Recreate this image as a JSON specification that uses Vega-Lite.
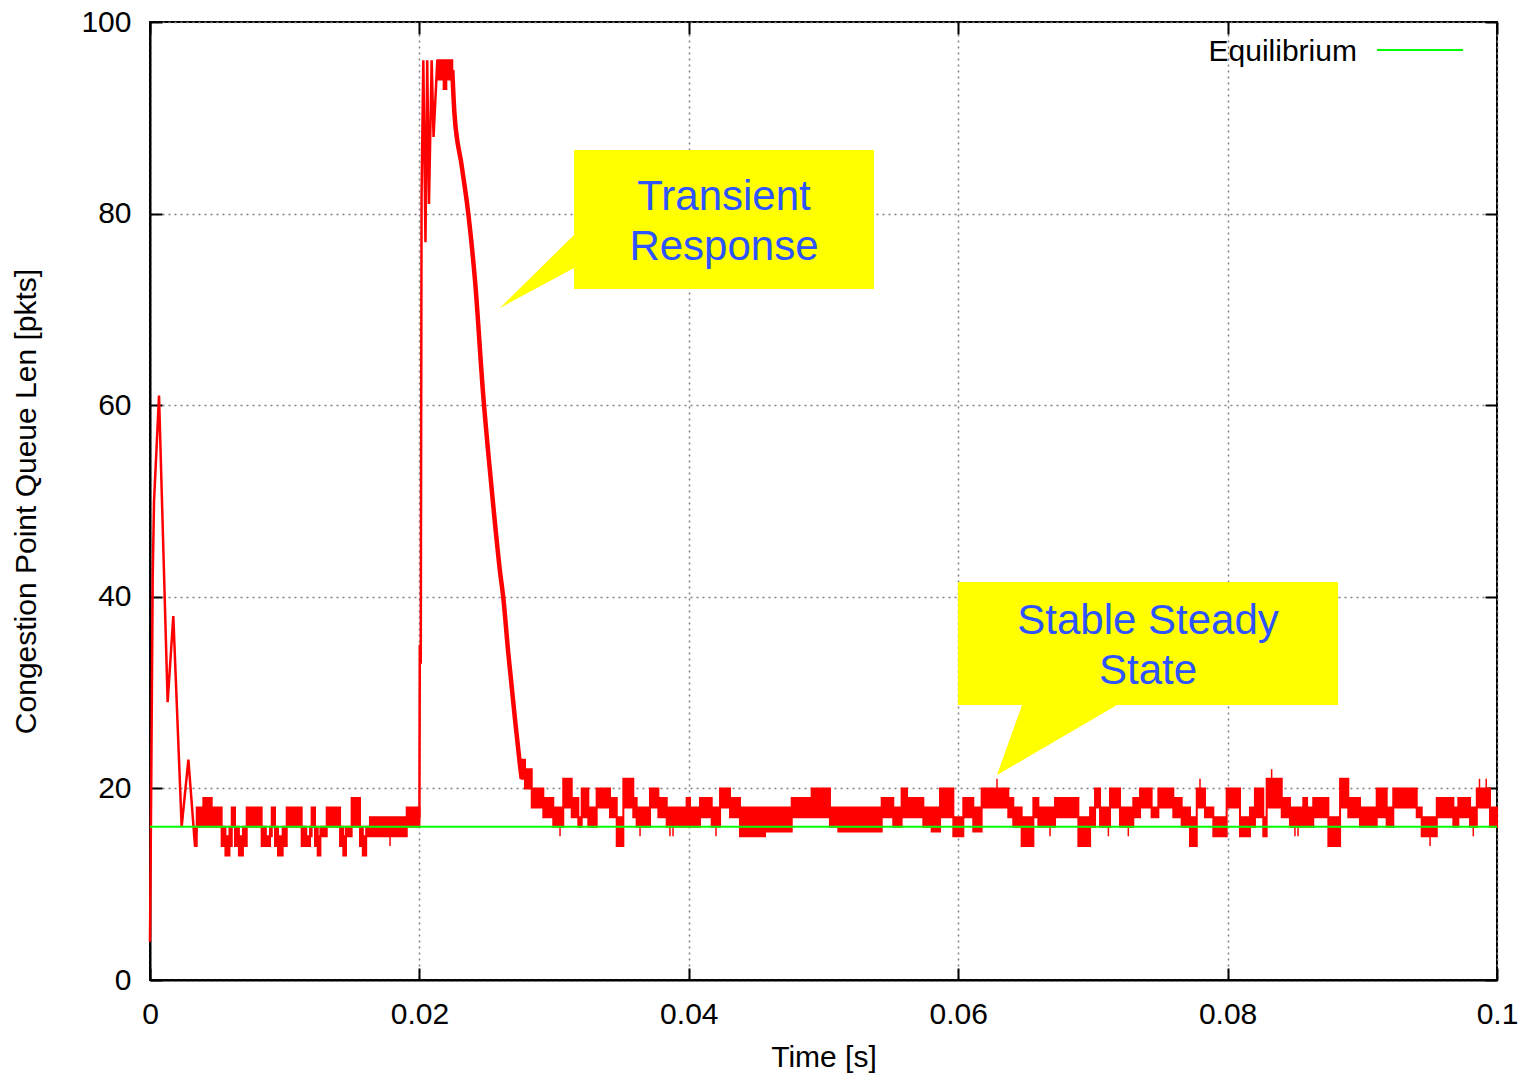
{
  "$schema": "https://vega.github.io/schema/vega-lite/v6.json",
  "width": 1347,
  "height": 958,
  "autosize": {"type": "none"},
  "padding": {"left": 150, "top": 22, "right": 25, "bottom": 94},
  "background": "white",
  "config": {
    "view": {"stroke": "black", "strokeWidth": 2},
    "font": "Liberation Sans"
  },
  "datasets": {
    "band": [
      {"seg":"A","t":0.00334,"lo":14,"hi":16},{"seg":"A","t":0.00347,"lo":16,"hi":18},{"seg":"A","t":0.00396,"lo":16,"hi":19},{"seg":"A","t":0.00458,"lo":16,"hi":18},{"seg":"A","t":0.00532,"lo":14,"hi":16},{"seg":"A","t":0.0056,"lo":13,"hi":15},{"seg":"A","t":0.0059,"lo":14,"hi":16},{"seg":"A","t":0.00607,"lo":16,"hi":18},{"seg":"A","t":0.00631,"lo":14,"hi":16},{"seg":"A","t":0.0066,"lo":13,"hi":15},{"seg":"A","t":0.0069,"lo":14,"hi":16},{"seg":"A","t":0.00718,"lo":16,"hi":18},{"seg":"A","t":0.00829,"lo":14,"hi":16},{"seg":"A","t":0.0086,"lo":14,"hi":15},{"seg":"A","t":0.00891,"lo":15,"hi":16},{"seg":"A","t":0.00904,"lo":16,"hi":18},{"seg":"A","t":0.00928,"lo":14,"hi":16},{"seg":"A","t":0.0095,"lo":13,"hi":15},{"seg":"A","t":0.00985,"lo":14,"hi":16},{"seg":"A","t":0.01015,"lo":16,"hi":18},{"seg":"A","t":0.01126,"lo":14,"hi":16},{"seg":"A","t":0.0116,"lo":14,"hi":15},{"seg":"A","t":0.01188,"lo":15,"hi":16},{"seg":"A","t":0.012,"lo":16,"hi":18},{"seg":"A","t":0.01225,"lo":14,"hi":16},{"seg":"A","t":0.01245,"lo":13,"hi":15},{"seg":"A","t":0.01265,"lo":15,"hi":16},{"seg":"A","t":0.01312,"lo":16,"hi":18},{"seg":"A","t":0.01411,"lo":14,"hi":16},{"seg":"A","t":0.01435,"lo":13,"hi":15},{"seg":"A","t":0.01455,"lo":15,"hi":16},{"seg":"A","t":0.01497,"lo":16,"hi":19},{"seg":"A","t":0.01559,"lo":14,"hi":16},{"seg":"A","t":0.0158,"lo":13,"hi":15},{"seg":"A","t":0.01605,"lo":15,"hi":16},{"seg":"A","t":0.01633,"lo":15,"hi":17},{"seg":"A","t":0.01906,"lo":16,"hi":18},{"seg":"A","t":0.02,"lo":16,"hi":18},
      {"seg":"B","t":0.02133,"lo":94,"hi":96},{"seg":"B","t":0.0218,"lo":93,"hi":96},{"seg":"B","t":0.022,"lo":94,"hi":96},{"seg":"B","t":0.02244,"lo":94,"hi":96},
      {"seg":"C","t":0.02759,"lo":21,"hi":23},{"seg":"C","t":0.02784,"lo":20,"hi":22},{"seg":"C","t":0.02834,"lo":18,"hi":20},{"seg":"C","t":0.0292,"lo":17,"hi":19},{"seg":"C","t":0.02994,"lo":16,"hi":18},{"seg":"C","t":0.03068,"lo":18,"hi":21},{"seg":"C","t":0.03131,"lo":17,"hi":19},{"seg":"C","t":0.0318,"lo":16,"hi":17},{"seg":"C","t":0.03205,"lo":17,"hi":20},{"seg":"C","t":0.03254,"lo":16,"hi":18},{"seg":"C","t":0.03316,"lo":18,"hi":20},{"seg":"C","t":0.03415,"lo":17,"hi":19},{"seg":"C","t":0.03465,"lo":14,"hi":17},{"seg":"C","t":0.03514,"lo":18,"hi":21},{"seg":"C","t":0.03588,"lo":17,"hi":19},{"seg":"C","t":0.03613,"lo":16,"hi":18},{"seg":"C","t":0.03712,"lo":18,"hi":20},{"seg":"C","t":0.03774,"lo":17,"hi":19},{"seg":"C","t":0.03836,"lo":16,"hi":18},{"seg":"C","t":0.03984,"lo":16,"hi":19},{"seg":"C","t":0.04009,"lo":16,"hi":18},{"seg":"C","t":0.04083,"lo":17,"hi":19},{"seg":"C","t":0.0417,"lo":16,"hi":18},{"seg":"C","t":0.04232,"lo":18,"hi":20},{"seg":"C","t":0.04306,"lo":17,"hi":19},{"seg":"C","t":0.0438,"lo":15,"hi":18},{"seg":"C","t":0.04566,"lo":15.5,"hi":18},{"seg":"C","t":0.04764,"lo":17,"hi":19},{"seg":"C","t":0.04912,"lo":17,"hi":20},{"seg":"C","t":0.05048,"lo":16,"hi":18},{"seg":"C","t":0.0511,"lo":15.5,"hi":18},{"seg":"C","t":0.05432,"lo":17,"hi":19},{"seg":"C","t":0.05518,"lo":16,"hi":18},{"seg":"C","t":0.0558,"lo":17,"hi":20},{"seg":"C","t":0.0562,"lo":17,"hi":19},{"seg":"C","t":0.05741,"lo":16,"hi":18},{"seg":"C","t":0.05803,"lo":15.5,"hi":18},{"seg":"C","t":0.05865,"lo":17,"hi":20},{"seg":"C","t":0.05964,"lo":15,"hi":17},{"seg":"C","t":0.06038,"lo":17,"hi":19},{"seg":"C","t":0.06112,"lo":15.5,"hi":18},{"seg":"C","t":0.06174,"lo":18,"hi":20},{"seg":"C","t":0.06372,"lo":17,"hi":19},{"seg":"C","t":0.06409,"lo":16,"hi":18},{"seg":"C","t":0.06471,"lo":14,"hi":17},{"seg":"C","t":0.06558,"lo":17,"hi":19},{"seg":"C","t":0.06595,"lo":16,"hi":18},{"seg":"C","t":0.06719,"lo":17,"hi":19},{"seg":"C","t":0.06892,"lo":14,"hi":17},{"seg":"C","t":0.06979,"lo":16,"hi":18},{"seg":"C","t":0.07016,"lo":18,"hi":20},{"seg":"C","t":0.07053,"lo":16,"hi":18},{"seg":"C","t":0.07127,"lo":18,"hi":20},{"seg":"C","t":0.07201,"lo":16,"hi":18},{"seg":"C","t":0.073,"lo":17,"hi":19},{"seg":"C","t":0.0735,"lo":18,"hi":20},{"seg":"C","t":0.07436,"lo":17,"hi":18},{"seg":"C","t":0.07486,"lo":18,"hi":20},{"seg":"C","t":0.07597,"lo":17,"hi":19},{"seg":"C","t":0.07659,"lo":16,"hi":18},{"seg":"C","t":0.07721,"lo":14,"hi":17},{"seg":"C","t":0.07771,"lo":18,"hi":20},{"seg":"C","t":0.07832,"lo":17,"hi":18},{"seg":"C","t":0.07894,"lo":15,"hi":17},{"seg":"C","t":0.07993,"lo":18,"hi":20},{"seg":"C","t":0.08092,"lo":15,"hi":17},{"seg":"C","t":0.08166,"lo":16,"hi":18},{"seg":"C","t":0.08203,"lo":17,"hi":20},{"seg":"C","t":0.08265,"lo":15,"hi":17},{"seg":"C","t":0.0829,"lo":18,"hi":21},{"seg":"C","t":0.08402,"lo":17,"hi":19},{"seg":"C","t":0.08463,"lo":16,"hi":18},{"seg":"C","t":0.08562,"lo":16,"hi":19},{"seg":"C","t":0.0859,"lo":16,"hi":18},{"seg":"C","t":0.08636,"lo":17,"hi":19},{"seg":"C","t":0.08748,"lo":14,"hi":17},{"seg":"C","t":0.08835,"lo":18,"hi":21},{"seg":"C","t":0.08896,"lo":17,"hi":19},{"seg":"C","t":0.08983,"lo":16,"hi":18},{"seg":"C","t":0.09107,"lo":17,"hi":20},{"seg":"C","t":0.09181,"lo":16,"hi":18},{"seg":"C","t":0.0923,"lo":18,"hi":20},{"seg":"C","t":0.09404,"lo":17,"hi":18},{"seg":"C","t":0.09441,"lo":15,"hi":17},{"seg":"C","t":0.09553,"lo":17,"hi":19},{"seg":"C","t":0.09676,"lo":16,"hi":18},{"seg":"C","t":0.09713,"lo":17,"hi":19},{"seg":"C","t":0.098,"lo":16,"hi":18},{"seg":"C","t":0.0985,"lo":18,"hi":20},{"seg":"C","t":0.09948,"lo":16,"hi":18},{"seg":"C","t":0.1,"lo":16,"hi":18}
    ],
    "trace": [
      {"seg":"start","t":0,"q":4},{"seg":"start","t":0.0001,"q":22},{"seg":"start","t":0.0002,"q":42},{"seg":"start","t":0.0003,"q":50},{"seg":"start","t":0.00067,"q":61},{"seg":"start","t":0.00131,"q":29},{"seg":"start","t":0.00173,"q":38},{"seg":"start","t":0.00235,"q":16},{"seg":"start","t":0.00285,"q":23},{"seg":"start","t":0.00334,"q":14},{"seg":"start","t":0.00347,"q":16},
      {"seg":"transient","t":0.01995,"q":17},{"seg":"transient","t":0.02,"q":17},{"seg":"transient","t":0.02003,"q":35},{"seg":"transient","t":0.0201,"q":33},{"seg":"transient","t":0.02016,"q":82},{"seg":"transient","t":0.02029,"q":96},{"seg":"transient","t":0.02045,"q":77},{"seg":"transient","t":0.02058,"q":96},{"seg":"transient","t":0.02071,"q":81},{"seg":"transient","t":0.02091,"q":96},{"seg":"transient","t":0.02105,"q":88},{"seg":"transient","t":0.02133,"q":96},
      {"seg":"descent","t":0.02244,"q":95},{"seg":"descent","t":0.0226,"q":90.5},{"seg":"descent","t":0.02314,"q":85},{"seg":"descent","t":0.02363,"q":80},{"seg":"descent","t":0.02413,"q":73},{"seg":"descent","t":0.02474,"q":61},{"seg":"descent","t":0.02537,"q":51.2},{"seg":"descent","t":0.02598,"q":42.7},{"seg":"descent","t":0.02622,"q":40},{"seg":"descent","t":0.0266,"q":34.1},{"seg":"descent","t":0.0271,"q":27.2},{"seg":"descent","t":0.02747,"q":22.4},{"seg":"descent","t":0.02759,"q":21}
    ],
    "spikes": [
      {"t":0.01782,"lo":14,"hi":15},{"t":0.03044,"lo":15,"hi":16.5},{"t":0.03638,"lo":15,"hi":16},{"t":0.0386,"lo":15,"hi":16},{"t":0.03883,"lo":15,"hi":16},{"t":0.04202,"lo":15,"hi":16},{"t":0.06288,"lo":20,"hi":21},{"t":0.06682,"lo":15,"hi":16},{"t":0.07115,"lo":15,"hi":16},{"t":0.07263,"lo":15,"hi":16},{"t":0.07795,"lo":20,"hi":21},{"t":0.08327,"lo":21,"hi":22},{"t":0.085,"lo":15,"hi":16},{"t":0.08523,"lo":15,"hi":16},{"t":0.08814,"lo":14,"hi":15},{"t":0.09503,"lo":14,"hi":15},{"t":0.09824,"lo":15,"hi":16},{"t":0.0987,"lo":20,"hi":21},{"t":0.0992,"lo":20,"hi":21}
    ]
  },
  "layer": [
    {
      "data": {"name": "band"},
      "mark": {"type": "area", "interpolate": "step-after", "color": "#ff0000", "opacity": 1, "stroke": "#ff0000", "strokeWidth": 2, "strokeJoin": "miter"},
      "encoding": {
        "x": {"field": "t", "type": "quantitative",
          "scale": {"domain": [0, 0.1], "nice": false, "zero": false},
          "axis": {"orient": "bottom", "values": [0, 0.02, 0.04, 0.06, 0.08, 0.1], "format": "~g",
            "title": "Time [s]", "titleFontSize": 30, "titleFontWeight": "normal", "titleColor": "black", "titleFont": "Liberation Sans", "titlePadding": 13,
            "labelFontSize": 30, "labelColor": "black", "labelFont": "Liberation Sans", "labelPadding": 31, "labelFlush": false,
            "grid": true, "gridColor": "#808080", "gridDash": [2, 4], "gridWidth": 1.5,
            "domainColor": "black", "domainWidth": 2, "ticks": true, "tickSize": -12, "tickColor": "black", "tickWidth": 2}},
        "y": {"field": "hi", "type": "quantitative",
          "scale": {"domain": [0, 100], "nice": false},
          "axis": {"orient": "left", "values": [0, 20, 40, 60, 80, 100],
            "title": "Congestion Point Queue Len [pkts]", "titleFontSize": 30, "titleFontWeight": "normal", "titleColor": "black", "titleFont": "Liberation Sans", "titlePadding": 39,
            "labelFontSize": 30, "labelColor": "black", "labelFont": "Liberation Sans", "labelPadding": 31, "labelFlush": false,
            "grid": true, "gridColor": "#808080", "gridDash": [2, 4], "gridWidth": 1.5,
            "domainColor": "black", "domainWidth": 2, "ticks": true, "tickSize": -12, "tickColor": "black", "tickWidth": 2}},
        "y2": {"field": "lo"},
        "detail": {"field": "seg"}
      }
    },
    {
      "data": {"name": "trace"},
      "transform": [{"filter": "datum.seg !== 'descent'"}],
      "mark": {"type": "line", "color": "#ff0000", "strokeWidth": 2.5},
      "encoding": {
        "x": {"field": "t", "type": "quantitative", "axis": null},
        "y": {"field": "q", "type": "quantitative", "axis": null},
        "detail": {"field": "seg"}
      }
    },
    {
      "data": {"name": "trace"},
      "transform": [{"filter": "datum.seg === 'descent'"}],
      "mark": {"type": "line", "color": "#ff0000", "strokeWidth": 4.5, "interpolate": "monotone"},
      "encoding": {
        "x": {"field": "t", "type": "quantitative", "axis": null},
        "y": {"field": "q", "type": "quantitative", "axis": null}
      }
    },
    {
      "data": {"name": "spikes"},
      "mark": {"type": "rule", "color": "#ff0000", "strokeWidth": 1.5},
      "encoding": {
        "x": {"field": "t", "type": "quantitative", "axis": null},
        "y": {"field": "lo", "type": "quantitative", "axis": null},
        "y2": {"field": "hi"}
      }
    },
    {
      "data": {"values": [{"t0": 0, "t1": 0.1, "q": 16}]},
      "mark": {"type": "rule", "color": "#00ff00", "strokeWidth": 2},
      "encoding": {
        "x": {"field": "t0", "type": "quantitative",
          "axis": {"orient": "top", "values": [0, 0.02, 0.04, 0.06, 0.08, 0.1], "labels": false, "title": null, "grid": false, "domain": false,
            "ticks": true, "tickSize": -12, "tickColor": "black", "tickWidth": 2}},
        "x2": {"field": "t1"},
        "y": {"field": "q", "type": "quantitative",
          "axis": {"orient": "right", "values": [0, 20, 40, 60, 80, 100], "labels": false, "title": null, "grid": false, "domain": false,
            "ticks": true, "tickSize": -12, "tickColor": "black", "tickWidth": 2}}
      }
    },
    {
      "data": {"values": [{"t": 0.02598, "q": 70.15, "q2": 70.15}, {"t": 0.03148, "q": 77.77, "q2": 74.32}]},
      "mark": {"type": "area", "color": "#ffff00", "opacity": 1},
      "encoding": {
        "x": {"field": "t", "type": "quantitative", "axis": null},
        "y": {"field": "q", "type": "quantitative", "axis": null},
        "y2": {"field": "q2"}
      }
    },
    {
      "data": {"values": [{"q": 21.4, "t": 0.06288, "t2": 0.06288}, {"q": 28.7, "t": 0.06474, "t2": 0.07179}]},
      "mark": {"type": "area", "orient": "horizontal", "color": "#ffff00", "opacity": 1},
      "encoding": {
        "y": {"field": "q", "type": "quantitative", "axis": null},
        "x": {"field": "t", "type": "quantitative", "axis": null},
        "x2": {"field": "t2"}
      }
    },
    {
      "data": {"values": [{"t": 0.03148, "t2": 0.05375, "q": 86.64, "q2": 72.13}, {"t": 0.05998, "t2": 0.0882, "q": 41.54, "q2": 28.7}]},
      "mark": {"type": "rect", "color": "#ffff00", "opacity": 1},
      "encoding": {
        "x": {"field": "t", "type": "quantitative", "axis": null},
        "x2": {"field": "t2"},
        "y": {"field": "q", "type": "quantitative", "axis": null},
        "y2": {"field": "q2"}
      }
    },
    {
      "data": {"values": [
        {"t": 0.04261, "q": 80.37, "label": "Transient"},
        {"t": 0.04261, "q": 75.15, "label": "Response"},
        {"t": 0.07409, "q": 36.1, "label": "Stable Steady"},
        {"t": 0.07409, "q": 30.89, "label": "State"}
      ]},
      "mark": {"type": "text", "font": "Liberation Sans", "fontSize": 42, "color": "#2d54ff", "align": "center", "baseline": "alphabetic"},
      "encoding": {
        "x": {"field": "t", "type": "quantitative", "axis": null},
        "y": {"field": "q", "type": "quantitative", "axis": null},
        "text": {"field": "label"}
      }
    },
    {
      "data": {"values": [{"t": 0.0896, "q": 95.93, "label": "Equilibrium"}]},
      "mark": {"type": "text", "font": "Liberation Sans", "fontSize": 30, "color": "black", "align": "right", "baseline": "alphabetic"},
      "encoding": {
        "x": {"field": "t", "type": "quantitative", "axis": null},
        "y": {"field": "q", "type": "quantitative", "axis": null},
        "text": {"field": "label"}
      }
    },
    {
      "data": {"values": [{"t0": 0.09109, "t1": 0.09748, "q": 97.08}]},
      "mark": {"type": "rule", "color": "#00ff00", "strokeWidth": 2},
      "encoding": {
        "x": {"field": "t0", "type": "quantitative", "axis": null},
        "x2": {"field": "t1"},
        "y": {"field": "q", "type": "quantitative", "axis": null}
      }
    }
  ],
  "resolve": {"axis": {"x": "independent", "y": "independent"}}
}
